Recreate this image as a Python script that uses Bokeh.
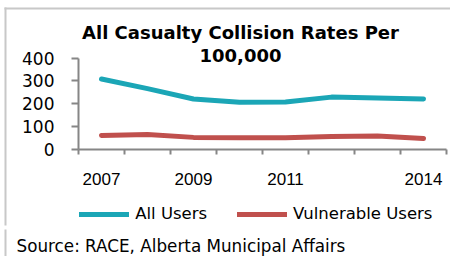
from bokeh.plotting import figure
from bokeh.models import (Range1d, FixedTicker, Label, Legend, LegendItem,
                          BoxAnnotation)
from bokeh.embed import file_html
from bokeh.resources import INLINE

# ---- data ----
years = [2007, 2008, 2009, 2010, 2011, 2012, 2013, 2014]
all_users = [308, 266, 221, 207, 208, 229, 225, 221]
vulnerable = [61, 66, 53, 51, 51, 57, 59, 48]
x_tick_labels = [2007, 2009, 2011, 2014]
y_ticks = [0, 100, 200, 300, 400]
title_lines = ["All Casualty Collision Rates Per", "100,000"]
series_names = ["All Users", "Vulnerable Users"]
source_text = "Source: RACE, Alberta Municipal Affairs"

TEAL = "#1BA6B6"
RED = "#C0504D"
AXIS = "#868686"
BORDER = "#C8C8C8"

W, H = 450, 256
# pixel geometry of the plotting area inside the canvas
PX_LEFT, PX_RIGHT = 78.0, 446.0      # category boundaries 2006.5 / 2014.5
PX_Y0, PX_Y400 = 149.0, 57.5         # y=0 and y=400
x_lo, x_hi = years[0] - 0.5, years[-1] + 0.5
xs = (PX_RIGHT - PX_LEFT) / (x_hi - x_lo)
ys = (PX_Y0 - PX_Y400) / 400.0

p = figure(width=W, height=H, output_backend="svg", toolbar_location=None,
           x_range=Range1d(x_lo - PX_LEFT / xs, x_hi + (W - PX_RIGHT) / xs),
           y_range=Range1d(-(H - PX_Y0) / ys, PX_Y0 / ys),
           min_border=0, min_border_left=0, min_border_right=0,
           min_border_top=0, min_border_bottom=0)
p.outline_line_color = None
p.xgrid.visible = False
p.ygrid.visible = False
p.background_fill_color = "white"
p.border_fill_color = "white"

# y axis
ya = p.yaxis[0]
ya.fixed_location = x_lo
ya.bounds = (0, 400)
ya.ticker = FixedTicker(ticks=y_ticks)
ya.axis_line_color = AXIS
ya.axis_line_width = 2
ya.major_tick_line_color = AXIS
ya.major_tick_line_width = 2
ya.major_tick_in = 0
ya.major_tick_out = 7
ya.minor_tick_line_color = None
ya.major_label_text_font = "DejaVu Sans"
ya.major_label_text_font_size = "17px"
ya.major_label_text_color = "black"
ya.major_label_standoff = 17

# x axis
xa = p.xaxis[0]
xa.fixed_location = 0
xa.bounds = (x_lo, x_hi)
xa.ticker = FixedTicker(ticks=x_tick_labels,
                        minor_ticks=[y - 0.5 for y in years] + [x_hi])
xa.axis_line_color = AXIS
xa.axis_line_width = 2
xa.major_tick_line_color = None
xa.major_tick_in = 0
xa.major_tick_out = 0
xa.minor_tick_line_color = AXIS
xa.minor_tick_line_width = 2
xa.minor_tick_in = 0
xa.minor_tick_out = 5
xa.major_label_text_font = "Liberation Sans"
xa.major_label_text_font_size = "17px"
xa.major_label_text_color = "black"
xa.major_label_standoff = 18

# lines
r1 = p.line(years, all_users, line_color=TEAL, line_width=5,
            line_cap="round", line_join="round")
r2 = p.line(years, vulnerable, line_color=RED, line_width=5,
            line_cap="round", line_join="round")

legend = Legend(items=[LegendItem(label=series_names[0], renderers=[r1]),
                       LegendItem(label=series_names[1], renderers=[r2])],
                orientation="horizontal", location=(79.2, H - 223.5),
                glyph_width=50, glyph_height=20, label_height=20,
                label_standoff=6, spacing=30, padding=0, margin=0,
                border_line_color=None, background_fill_alpha=0,
                label_text_font="DejaVu Sans", label_text_font_size="16.5px",
                label_text_color="black")
p.add_layout(legend, "center")

# title
for txt, base in [(title_lines[0], 31.7), (title_lines[1], 55.0)]:
    p.add_layout(Label(x=240, y=H - base, x_units="screen", y_units="screen",
                       text=txt, text_align="center",
                       text_baseline="alphabetic", text_font="DejaVu Sans",
                       text_font_style="bold", text_font_size="18px",
                       text_color="black"))

# source (anchored by its top so it stays inside the canvas)
p.add_layout(Label(x=16, y=H - 235.5, x_units="screen", y_units="screen",
                   text=source_text, text_align="left",
                   text_baseline="top", text_font="DejaVu Sans",
                   text_font_size="16.8px", text_color="black"))

# borders (chart area box and source box)
for (l, r, t, b) in [(4, W, 7, 9), (4, 6, 7, 225), (4, 6, 229, H)]:
    p.add_layout(BoxAnnotation(left=l, right=r, top=H - t, bottom=H - b,
                               left_units="screen", right_units="screen",
                               top_units="screen", bottom_units="screen",
                               fill_color=BORDER, fill_alpha=1,
                               line_color=None))

open("out.html", "w").write(file_html(p, INLINE))
